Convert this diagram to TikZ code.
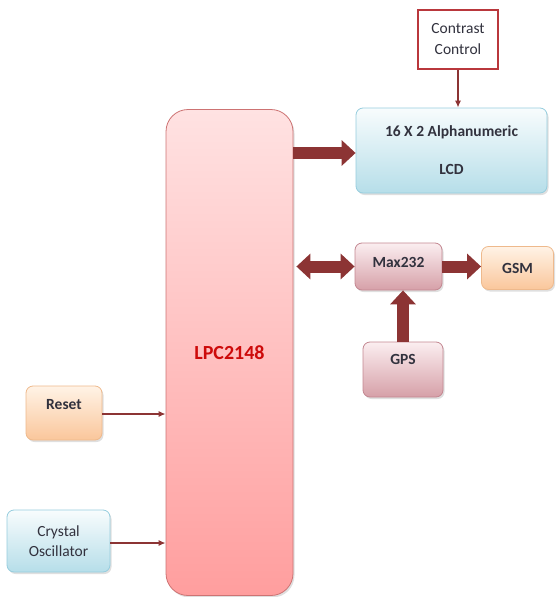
\documentclass[tikz,border=0pt]{standalone}
\usepackage{fontspec}
\setmainfont{Carlito}
\usetikzlibrary{arrows.meta,shadows}
\definecolor{arr}{RGB}{140,52,52}
\definecolor{lpcT}{RGB}{255,226,226}
\definecolor{lpcB}{RGB}{255,158,158}
\definecolor{lpcD}{RGB}{205,115,115}
\definecolor{blT}{RGB}{248,252,253}
\definecolor{blB}{RGB}{182,222,233}
\definecolor{blD}{RGB}{150,205,222}
\definecolor{pkT}{RGB}{251,238,240}
\definecolor{pkB}{RGB}{214,160,168}
\definecolor{pkD}{RGB}{195,135,145}
\definecolor{orT}{RGB}{255,243,230}
\definecolor{orB}{RGB}{250,198,155}
\definecolor{orD}{RGB}{238,185,140}
\definecolor{ccD}{RGB}{185,55,60}
\definecolor{txt}{RGB}{50,50,62}
\definecolor{lpctxt}{RGB}{205,10,10}
\begin{document}
\begin{tikzpicture}[x=1pt,y=-1pt,
  every node/.style={font=\fontsize{15.5}{18}\selectfont, text=txt, align=center, inner sep=0pt},
  blk/.style={draw, rounded corners=7pt, line width=0.8pt,
    drop shadow={shadow xshift=1.5pt,shadow yshift=-2pt,opacity=0.25}},
  blue/.style={blk, draw=blD, top color=blT, bottom color=blB},
  pink/.style={blk, draw=pkD, top color=pkT, bottom color=pkB},
  orng/.style={blk, draw=orD, top color=orT, bottom color=orB},
  thin/.style={draw=arr, line width=1.3pt, -{Latex[length=7pt,width=6pt]}},
  fat/.style={draw=arr, line width=12pt, -{Triangle[length=14pt,width=25pt]}},
  fatd/.style={draw=arr, line width=12pt, {Triangle[length=14pt,width=25pt]}-{Triangle[length=14pt,width=25pt]}}
]
\useasboundingbox (0,0) rectangle (555,597);

\node[blk, rounded corners=22pt, draw=lpcD, top color=lpcT, bottom color=lpcB,
  minimum width=127pt, minimum height=486pt] (lpc) at (229.5,352.5)
  {\fontsize{20}{22}\selectfont\bfseries\color{lpctxt}LPC2148};

\node[draw=ccD, line width=1.5pt, fill=white, minimum width=80pt, minimum height=59pt]
  (cc) at (458,39.5) {Contrast\\[3pt]Control};

\node[blue, minimum width=191pt, minimum height=85pt] (lcd) at (451.5,150.5)
  {\bfseries 16 X 2 Alphanumeric\\[20pt]\bfseries LCD};

\node[pink, minimum width=87pt, minimum height=47pt, text depth=9pt, font=\fontsize{15.5}{18}\selectfont\bfseries] (max) at (398.5,266.5) {Max232};
\node[orng, minimum width=72pt, minimum height=43pt, font=\fontsize{15.5}{18}\selectfont\bfseries] (gsm) at (517.5,268) {GSM};
\node[pink, minimum width=80pt, minimum height=55pt, text depth=21pt, font=\fontsize{15.5}{18}\selectfont\bfseries] (gps) at (403,369.5) {GPS};
\node[orng, minimum width=76pt, minimum height=54pt, text depth=18pt, font=\fontsize{15.5}{18}\selectfont\bfseries] (rst) at (64,413) {Reset};
\node[blue, minimum width=103pt, minimum height=62pt] (xtal) at (58.5,541) {Crystal\\[2pt]Oscillator};

\draw[thin] (cc.south) -- (lcd.north -| cc.south);
\draw[fat] (lpc.east |- 0,153) -- (lcd.west |- 0,153);
\draw[fatd] ([xshift=3pt]lpc.east |- 0,266.5) -- (max.west);
\draw[fat] (max.east) -- (gsm.west |- max.east);
\draw[fat] (gps.north) -- (gps.north |- max.south);
\draw[thin] (rst.east |- 0,414) -- (lpc.west |- 0,414);
\draw[thin] (xtal.east |- 0,543) -- (lpc.west |- 0,543);
\end{tikzpicture}
\end{document}
